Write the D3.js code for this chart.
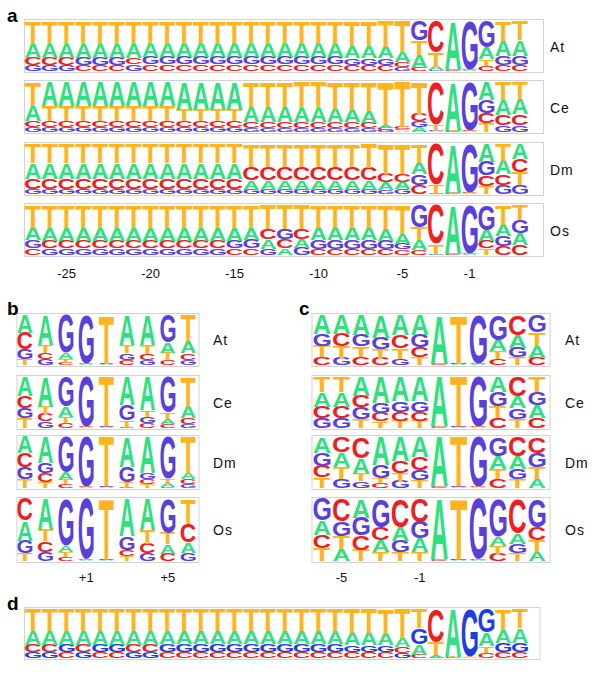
<!DOCTYPE html>
<html>
<head>
<meta charset="utf-8">
<script src="https://cdn.jsdelivr.net/npm/d3@7"></script>
<style>
  body { margin: 0; background: #fff; }
  svg { display: block; }
  text { font-family: "Liberation Sans", Arial, sans-serif; }
</style>
</head>
<body>
<svg width="600" height="677"></svg>
<script>
// letter order in every column array: [A, C, G, T]
var bases = ["A", "C", "G", "T"];
var species = ["At", "Ce", "Dm", "Os"];

// panel a / d: acceptor site positions
var posA = [-27, -26, -25, -24, -23, -22, -21, -20, -19, -18, -17, -16, -15, -14, -13,
  -12, -11, -10, -9, -8, -7, -6, -5, -4, -3, -2, -1, 1, 2, 3];
var ticksA = [-25, -20, -15, -10, -5, -1];

// panel b: donor site positions
var posB = [-3, -2, -1, 1, 2, 3, 4, 5, 6];
var ticksB = [1, 5];

// panel c: start codon context
var posC = [-6, -5, -4, -3, -2, -1, 1, 2, 3, 4, 5, 6];
var ticksC = [-5, -1];

var accAt = [
  [.28, .15, .12, .45], [.28, .15, .12, .45], [.28, .15, .12, .45], [.28, .12, .15, .45],
  [.28, .12, .15, .45], [.28, .12, .15, .45], [.28, .14, .13, .45], [.27, .13, .15, .45],
  [.27, .13, .15, .45], [.27, .13, .15, .45], [.27, .13, .15, .45], [.27, .13, .15, .45],
  [.27, .13, .15, .45], [.27, .13, .15, .45], [.27, .13, .15, .45], [.27, .13, .15, .45],
  [.27, .13, .15, .45], [.27, .13, .15, .45], [.27, .13, .15, .45], [.24, .12, .14, .50],
  [.24, .12, .14, .50], [.23, .12, .14, .51], [.20, .10, .08, .62], [.26, .07, .38, .29],
  [.07, .63, .02, .28], [.97, .01, .01, .01], [.01, .01, .97, .01], [.24, .11, .52, .13],
  [.30, .12, .18, .40], [.32, .12, .18, .38]
];
var accCe = [
  [.30, .13, .10, .47], [.48, .12, .10, .30], [.48, .12, .10, .30], [.48, .12, .10, .30],
  [.48, .12, .10, .30], [.48, .12, .10, .30], [.48, .12, .10, .30], [.48, .12, .10, .30],
  [.48, .12, .10, .30], [.55, .12, .10, .23], [.55, .12, .10, .23], [.55, .12, .10, .23],
  [.55, .12, .10, .23], [.30, .12, .08, .50], [.30, .12, .08, .50], [.30, .12, .08, .50],
  [.28, .13, .07, .52], [.28, .13, .07, .52], [.27, .13, .07, .53], [.25, .13, .07, .55],
  [.24, .12, .07, .57], [.06, .05, .04, .85], [.03, .04, .03, .90], [.10, .15, .12, .63],
  [.02, .85, .02, .11], [.97, .01, .01, .01], [.01, .01, .97, .01], [.35, .20, .27, .18],
  [.30, .20, .14, .36], [.30, .22, .14, .34]
];
var accDm = [
  [.31, .21, .10, .38], [.31, .21, .10, .38], [.31, .21, .10, .38], [.31, .21, .10, .38],
  [.31, .21, .10, .38], [.31, .21, .10, .38], [.31, .21, .10, .38], [.31, .21, .10, .38],
  [.31, .21, .10, .38], [.31, .21, .10, .38], [.31, .21, .10, .38], [.31, .21, .10, .38],
  [.31, .21, .10, .38], [.19, .27, .09, .45], [.19, .27, .09, .45], [.19, .27, .09, .45],
  [.19, .27, .09, .45], [.19, .27, .09, .45], [.19, .27, .09, .45], [.19, .27, .09, .45],
  [.18, .25, .09, .48], [.15, .18, .08, .59], [.14, .16, .10, .60], [.23, .18, .22, .37],
  [.02, .82, .01, .15], [.97, .01, .01, .01], [.01, .01, .97, .01], [.35, .22, .28, .15],
  [.27, .22, .18, .33], [.30, .27, .18, .25]
];
var accOs = [
  [.25, .14, .16, .45], [.26, .16, .13, .45], [.26, .16, .13, .45], [.26, .16, .13, .45],
  [.26, .16, .13, .45], [.26, .16, .13, .45], [.26, .16, .13, .45], [.26, .16, .13, .45],
  [.26, .16, .13, .45], [.26, .16, .13, .45], [.26, .16, .13, .45], [.26, .16, .13, .45],
  [.26, .13, .16, .45], [.24, .14, .17, .45], [.19, .21, .12, .48], [.13, .18, .21, .48],
  [.17, .20, .15, .48], [.25, .12, .18, .45], [.25, .12, .18, .45], [.25, .12, .18, .45],
  [.25, .12, .18, .45], [.24, .12, .17, .47], [.20, .11, .12, .57], [.20, .10, .44, .26],
  [.02, .78, .01, .19], [.97, .01, .01, .01], [.01, .01, .97, .01], [.22, .15, .50, .13],
  [.22, .18, .20, .40], [.24, .20, .26, .30]
];
var accAll = [
  [.28, .15, .12, .45], [.28, .15, .12, .45], [.28, .12, .15, .45], [.28, .15, .12, .45],
  [.28, .12, .15, .45], [.28, .12, .15, .45], [.28, .15, .12, .45], [.28, .15, .12, .45],
  [.27, .13, .15, .45], [.27, .13, .15, .45], [.27, .13, .15, .45], [.27, .13, .15, .45],
  [.27, .13, .15, .45], [.27, .13, .15, .45], [.27, .13, .15, .45], [.27, .13, .15, .45],
  [.27, .13, .15, .45], [.27, .13, .15, .45], [.27, .13, .15, .45], [.25, .12, .14, .49],
  [.25, .12, .14, .49], [.24, .12, .14, .50], [.18, .12, .10, .60], [.21, .07, .33, .39],
  [.06, .68, .01, .25], [.97, .01, .01, .01], [.01, .01, .97, .01], [.27, .11, .48, .14],
  [.27, .13, .18, .42], [.30, .13, .18, .39]
];

var donAt = [[.35, .33, .20, .12], [.60, .13, .12, .15], [.12, .05, .75, .08], [.01, .01, .97, .01],
  [.01, .01, .01, .97], [.60, .10, .14, .16], [.60, .12, .10, .18], [.20, .11, .55, .14], [.24, .14, .10, .52]];
var donCe = [[.37, .24, .20, .19], [.58, .14, .13, .15], [.20, .10, .58, .12], [.01, .01, .97, .01],
  [.01, .01, .01, .97], [.55, .02, .30, .13], [.65, .10, .12, .13], [.10, .08, .70, .12], [.22, .12, .08, .58]];
var donDm = [[.32, .28, .22, .18], [.50, .18, .20, .12], [.14, .07, .70, .09], [.01, .01, .97, .01],
  [.01, .01, .01, .97], [.58, .02, .30, .10], [.70, .10, .12, .08], [.08, .02, .82, .08], [.12, .10, .08, .70]];
var donOs = [[.32, .35, .20, .13], [.50, .17, .15, .18], [.10, .07, .75, .08], [.01, .01, .97, .01],
  [.01, .01, .01, .97], [.60, .10, .22, .08], [.50, .16, .12, .22], [.15, .12, .55, .18], [.17, .30, .13, .40]];

var kozAt = [[.38, .16, .24, .22], [.38, .25, .15, .22], [.40, .16, .23, .21], [.45, .15, .23, .17],
  [.40, .27, .13, .20], [.40, .20, .25, .15], [.97, .01, .01, .01], [.01, .01, .01, .97],
  [.01, .01, .97, .01], [.22, .13, .50, .15], [.25, .40, .20, .15], [.24, .15, .35, .26]];
var kozCe = [[.28, .22, .20, .30], [.28, .22, .20, .30], [.37, .23, .22, .18], [.50, .17, .20, .13],
  [.48, .18, .20, .14], [.48, .18, .20, .14], [.97, .01, .01, .01], [.01, .01, .01, .97],
  [.01, .01, .97, .01], [.30, .20, .27, .23], [.23, .38, .21, .18], [.24, .20, .26, .30]];
var kozDm = [[.30, .22, .26, .20], [.28, .30, .18, .22], [.30, .42, .13, .15], [.55, .10, .25, .10],
  [.48, .22, .14, .16], [.40, .25, .20, .15], [.97, .01, .01, .01], [.01, .01, .01, .97],
  [.01, .01, .97, .01], [.25, .18, .37, .20], [.25, .38, .20, .17], [.18, .31, .29, .22]];
var kozOs = [[.23, .22, .35, .20], [.19, .36, .24, .21], [.30, .23, .29, .18], [.19, .21, .45, .15],
  [.22, .45, .18, .15], [.22, .37, .27, .14], [.97, .01, .01, .01], [.01, .01, .01, .97],
  [.01, .01, .97, .01], [.15, .12, .60, .13], [.17, .55, .15, .13], [.15, .22, .45, .18]];

var colorsMain = { A: "#2fe07f", C: "#ee1f22", G: "#5b3fda", T: "#ffb41e" };
var colorsD = { A: "#36df86", C: "#ee1f22", G: "#1d3ee6", T: "#ffb41e" };

var svg = d3.select("svg");

// glyph bounds of the logo font, so each letter can be stretched to its cell
var ctx = document.createElement("canvas").getContext("2d");
ctx.font = "bold 100px 'Liberation Sans'";
var fallback = { A: [0, 72, 72, 0], C: [-4, 68, 73, 1], G: [-4, 73, 73, 1], T: [-2, 59, 72, 0] };
var glyph = {};
bases.forEach(function(b) {
  var m = ctx.measureText(b);
  var l = m.actualBoundingBoxLeft, r = m.actualBoundingBoxRight,
      a = m.actualBoundingBoxAscent, d = m.actualBoundingBoxDescent;
  if (!(r > 0 && a > 0)) { l = fallback[b][0]; r = fallback[b][1]; a = fallback[b][2]; d = fallback[b][3]; }
  glyph[b] = { l: l, r: r, a: a, d: d };
});

function drawLogo(cols, x, positions, top, h, x0, x1, colors) {
  var y = d3.scaleLinear().domain([0, 1]).range([top + h, top]);

  svg.append("rect")
    .attr("x", x0).attr("y", top - 1.5)
    .attr("width", x1 - x0).attr("height", h + 3)
    .attr("fill", "none").attr("stroke", "#d2d2d2").attr("stroke-width", 1);

  svg.append("g").selectAll("g").data(cols).enter().append("g")
    .each(function(c, i) {
      var g = d3.select(this);
      var tot = d3.sum(c);
      var stack = bases.map(function(b, k) { return { b: b, p: c[k] / tot }; })
        .sort(function(u, v) { return u.p - v.p; });
      var acc = 0;
      stack.forEach(function(s) {
        var yb = y(acc), yt = y(acc + s.p);
        acc += s.p;
        var hh = yb - yt;
        if (hh < 0.4) return;
        var m = glyph[s.b];
        var sx = x.bandwidth() / (m.l + m.r), sy = hh / (m.a + m.d);
        g.append("text")
          .attr("font-size", 100)
          .attr("font-weight", "bold")
          .attr("fill", colors[s.b])
          .attr("transform", "translate(" + x(positions[i]) + "," + yb + ") scale(" + sx + "," + sy +
            ") translate(" + m.l + "," + (-m.d) + ")")
          .text(s.b);
      });
    });
}

function label(txt, x, yc) {
  svg.append("text").attr("x", x).attr("y", yc + 5)
    .attr("font-size", 14).attr("letter-spacing", 1).attr("fill", "#111")
    .text(txt);
}

function ticks(x, values, y) {
  var axis = d3.axisBottom(x).tickValues(values).tickSize(0).tickPadding(7)
    .tickFormat(function(d) { return d > 0 ? "+" + d : String(d); });
  var g = svg.append("g").attr("transform", "translate(0," + y + ")").call(axis);
  g.select(".domain").remove();
  g.selectAll("text").attr("font-size", 13).attr("font-family", "Liberation Sans, Arial, sans-serif").attr("fill", "#111");
}

function panelLetter(t, x, y) {
  svg.append("text").attr("x", x).attr("y", y)
    .attr("font-size", 19).attr("font-weight", "bold").attr("fill", "#000").text(t);
}

// ---- panel a
var xA = d3.scaleBand().domain(posA).range([25, 528]).paddingInner(0.05);
var accData = [accAt, accCe, accDm, accOs];
var topsA = [21, 82, 144, 205];
accData.forEach(function(cols, k) {
  drawLogo(cols, xA, posA, topsA[k], 50, 24.5, 543.5, colorsMain);
  label(species[k], 550, topsA[k] + 26);
});
ticks(xA, ticksA, 262);
panelLetter("a", 7, 22);

// ---- panel b
var xB = d3.scaleBand().domain(posB).range([17.5, 195.7]).paddingInner(0.265);
var donData = [donAt, donCe, donDm, donOs];
var topsB = [315, 377, 437, 499];
var hB = [50, 51, 51, 62];
donData.forEach(function(cols, k) {
  drawLogo(cols, xB, posB, topsB[k], hB[k], 17, 199, colorsMain);
  label(species[k], 213, topsB[k] + hB[k] / 2);
});
ticks(xB, ticksB, 566);
panelLetter("b", 7, 315);

// ---- panel c
var xC = d3.scaleBand().domain(posC).range([313.5, 545.5]).paddingInner(0.13);
var kozData = [kozAt, kozCe, kozDm, kozOs];
kozData.forEach(function(cols, k) {
  drawLogo(cols, xC, posC, topsB[k], hB[k], 312, 550, colorsMain);
  label(species[k], 565, topsB[k] + hB[k] / 2);
});
ticks(xC, ticksC, 566);
panelLetter("c", 299, 315);

// ---- panel d
drawLogo(accAll, xA, posA, 609, 49, 24.5, 540, colorsD);
panelLetter("d", 7, 610);
</script>
</body>
</html>
